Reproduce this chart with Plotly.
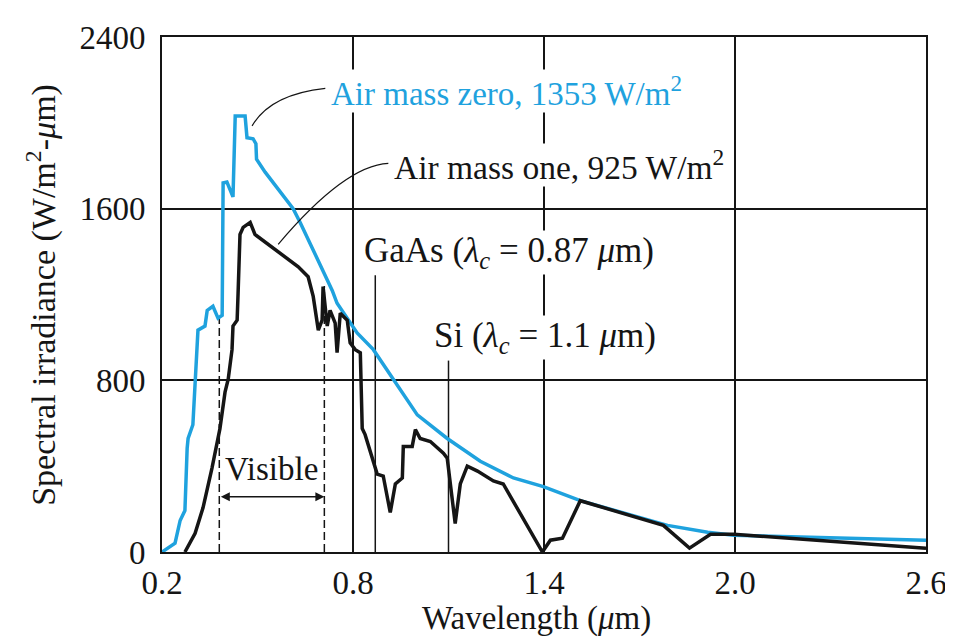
import plotly.graph_objects as go

# ---- data ----
am0_wavelength = [0.200, 0.241, 0.257, 0.272, 0.279, 0.282, 0.297, 0.304, 0.310, 0.313,
                  0.335, 0.342, 0.360, 0.376, 0.389, 0.392, 0.404, 0.423, 0.430, 0.461,
                  0.467, 0.486, 0.495, 0.497, 0.524, 0.612, 0.634, 0.735, 0.750, 0.813,
                  0.864, 0.926, 1.002, 1.096, 1.200, 1.304, 1.398, 1.514, 1.788, 1.914,
                  1.996, 2.600]
am0_irradiance = [0, 41, 147, 193, 483, 529, 593, 823, 989, 1034,
                  1053, 1126, 1145, 1090, 1103, 1720, 1724, 1655, 2032, 2032,
                  1931, 1926, 1903, 1830, 1770, 1600, 1536, 1218, 1159, 1021,
                  943, 805, 639, 529, 423, 345, 305, 239, 124, 92,
                  78, 55]

am1_wavelength = [0.272, 0.304, 0.329, 0.357, 0.382, 0.398, 0.408, 0.420, 0.423, 0.436,
                  0.439, 0.445, 0.455, 0.477, 0.492, 0.533, 0.577, 0.628, 0.659, 0.675,
                  0.691, 0.703, 0.706, 0.719, 0.728, 0.744, 0.750, 0.760, 0.782, 0.791,
                  0.807, 0.823, 0.829, 0.838, 0.876, 0.895, 0.917, 0.933, 0.955, 0.958,
                  0.986, 0.996, 1.011, 1.043, 1.084, 1.096, 1.121, 1.137, 1.159, 1.191,
                  1.241, 1.272, 1.395, 1.420, 1.458, 1.514, 1.775, 1.857, 1.923, 1.996,
                  2.600]
am1_irradiance = [0, 87, 207, 391, 575, 745, 805, 943, 1053, 1080,
                  1205, 1480, 1513, 1536, 1480, 1434, 1389, 1329, 1283, 1191,
                  1034, 1080, 1237, 1053, 1126, 1067, 929, 1113, 1080, 975,
                  943, 929, 575, 547, 363, 354, 184, 317, 345, 492,
                  492, 570, 529, 515, 460, 437, 133, 317, 400, 377,
                  331, 317, 0, 55, 64, 239, 124, 18, 83, 83,
                  18]

cutoff_wavelengths = [0.87, 1.1]
cutoff_heights = [1290, 892]
visible_bounds = [0.38, 0.71]
visible_heights = [1090, 1240]

x_ticks = [0.2, 0.8, 1.4, 2.0, 2.6]
x_tick_labels = ["0.2", "0.8", "1.4", "2.0", "2.6"]
y_ticks = [0, 800, 1600, 2400]
y_tick_labels = ["0", "800", "1600", "2400"]

BLUE = "#1fa2de"
BLACK = "#151515"
FONT = "Liberation Serif"

fig = go.Figure()

# cutoff lines (GaAs, Si)
for wl, h in zip(cutoff_wavelengths, cutoff_heights):
    fig.add_trace(go.Scatter(x=[wl, wl], y=[0, h], mode="lines",
                             line=dict(color=BLACK, width=1.5), showlegend=False, hoverinfo="skip"))
# visible band dashed lines
for wl, h in zip(visible_bounds, visible_heights):
    fig.add_trace(go.Scatter(x=[wl, wl], y=[0, h], mode="lines",
                             line=dict(color=BLACK, width=1.5, dash="8px,4px"), showlegend=False, hoverinfo="skip"))

fig.add_trace(go.Scatter(x=am0_wavelength, y=am0_irradiance, mode="lines",
                         line=dict(color=BLUE, width=3.5), showlegend=False, name="Air mass zero"))
fig.add_trace(go.Scatter(x=am1_wavelength, y=am1_irradiance, mode="lines",
                         line=dict(color=BLACK, width=3.5), showlegend=False, name="Air mass one"))

fig.add_annotation(x=0.728, y=2147, text="Air mass zero, 1353 W/m<sup>2</sup>", showarrow=False,
                   xanchor="left", yanchor="middle", font=dict(family=FONT, size=33, color=BLUE),
                   bgcolor="white", borderpad=0)
fig.add_annotation(x=0.926, y=1802, text="Air mass one, 925 W/m<sup>2</sup>", showarrow=False,
                   xanchor="left", yanchor="middle", font=dict(family=FONT, size=33.5, color=BLACK),
                   bgcolor="white", borderpad=0)
fig.add_annotation(x=0.832, y=1398, text="GaAs (<i>λ<sub>c</sub></i> = 0.87 <i>μ</i>m)", showarrow=False,
                   xanchor="left", yanchor="middle", font=dict(family=FONT, size=35, color=BLACK),
                   bgcolor="white", borderpad=0)
fig.add_annotation(x=1.052, y=998, text="Si (<i>λ<sub>c</sub></i> = 1.1 <i>μ</i>m)", showarrow=False,
                   xanchor="left", yanchor="middle", font=dict(family=FONT, size=35, color=BLACK),
                   bgcolor="white", borderpad=0)
fig.add_annotation(x=0.545, y=386, text="Visible", showarrow=False,
                   xanchor="center", yanchor="middle", font=dict(family=FONT, size=33, color=BLACK))
fig.add_annotation(x=visible_bounds[1], y=257, ax=visible_bounds[0], ay=257, axref="x", ayref="y",
                   text="", showarrow=True, arrowside="end+start", arrowhead=2, arrowsize=1.2,
                   arrowwidth=1.5, arrowcolor=BLACK)

# leader curves
fig.add_shape(type="path", xref="x", yref="y", path="M 0.713,2161 Q 0.540,2133 0.483,1986",
              line=dict(color=BLACK, width=1.2))
fig.add_shape(type="path", xref="x", yref="y", path="M 0.911,1811 Q 0.775,1802 0.565,1434",
              line=dict(color=BLACK, width=1.2))

# axis titles
fig.add_annotation(xref="paper", yref="paper", x=-0.158, y=0.5,
                   text="Spectral irradiance (W/m<sup>2</sup>-<i>μ</i>m)", textangle=-90,
                   showarrow=False, xanchor="center", yanchor="middle",
                   font=dict(family=FONT, size=34, color=BLACK))
fig.add_annotation(xref="paper", yref="paper", x=0.49, y=-0.130,
                   text="Wavelength (<i>μ</i>m)",
                   showarrow=False, xanchor="center", yanchor="middle",
                   font=dict(family=FONT, size=33, color=BLACK))

fig.update_layout(
    width=953, height=640,
    margin=dict(l=154, r=35, t=22, b=96),
    paper_bgcolor="white", plot_bgcolor="white",
    font=dict(family=FONT, color=BLACK),
    showlegend=False,
)
fig.update_xaxes(range=[0.2, 2.6], tickvals=x_ticks, ticktext=x_tick_labels,
                 showgrid=True, gridcolor=BLACK, gridwidth=1.5, zeroline=False,
                 showline=True, linecolor=BLACK, linewidth=2, mirror=True,
                 ticks="", ticklabelstandoff=0, tickfont=dict(family=FONT, size=33, color=BLACK))
fig.update_yaxes(range=[0, 2400], tickvals=y_ticks, ticktext=y_tick_labels,
                 showgrid=True, gridcolor=BLACK, gridwidth=1.5, zeroline=False,
                 showline=True, linecolor=BLACK, linewidth=2, mirror=True,
                 ticks="", ticklabelstandoff=8, tickfont=dict(family=FONT, size=33, color=BLACK))

fig.write_html("out.html")
